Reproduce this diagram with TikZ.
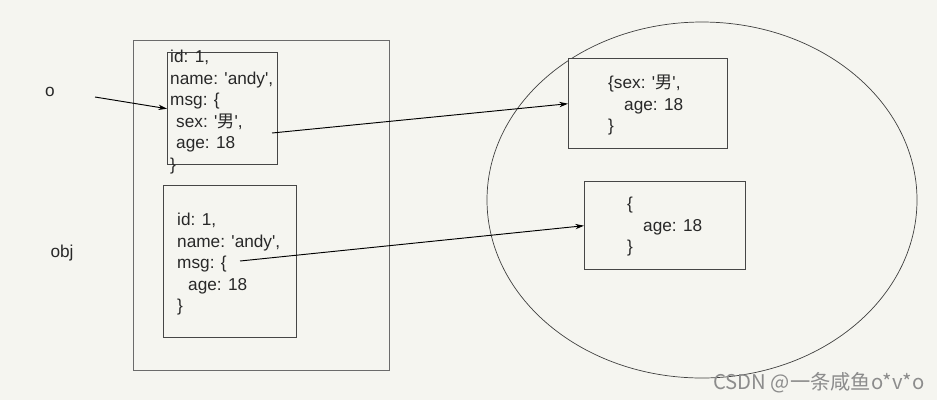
\documentclass[tikz,border=0pt]{standalone}
\usepackage{fontspec}
\newfontfamily\figfont{Liberation Sans}
\newfontfamily\cjk{Noto Sans CJK SC}
\usepackage{tikz}
\usetikzlibrary{arrows.meta,positioning,shapes.geometric}

\definecolor{paper}{RGB}{245,245,240}
\definecolor{ink}{RGB}{40,40,40}
\definecolor{frame}{RGB}{70,70,70}

\begin{document}
\begin{tikzpicture}[
    x=0.3mm, y=-0.3mm,
    font=\figfont\fontsize{14.7}{18.4}\selectfont,
    text=ink,
    objBox/.style={
        rectangle, draw=frame, line width=1.2pt, anchor=north west,
        inner sep=0pt
    },
    code/.style={anchor=north west, inner sep=0pt, align=left},
    varLabel/.style={inner sep=0pt},
    arrow/.style={-{Stealth[length=2.6mm,width=1.6mm]}, line width=0.8pt, draw=black}
]

    % background and frame
    \fill[paper] (0,0) rectangle (937,400);
    \useasboundingbox (0,0) rectangle (937,400);

    % stack side
    \node[varLabel] (o_label) at (50,92) {o};
    \node[varLabel] (obj_label) at (62,253) {obj};
    \node[objBox, draw=frame!80, line width=0.9pt, minimum width=256*0.3mm, minimum height=330*0.3mm] (outer_box) at (133,40) {};

    \node[objBox, minimum width=110*0.3mm, minimum height=112*0.3mm] (o_box) at (167,52) {};
    \node[code] (o_text) at (170,50) {id: 1,\\ name: 'andy',\\ msg: \{\\ \hspace{1.8mm}sex: '{\cjk 男}',\\ \hspace{1.8mm}age: 18\\ \}};

    \node[objBox, minimum width=133*0.3mm, minimum height=152*0.3mm] (obj_box) at (163,185) {};
    \node[code] (obj_text) at (177,213) {id: 1,\\ name: 'andy',\\ msg: \{\\ \hspace{3.3mm}age: 18\\ \}};

    % heap side
    \node[draw=black!75, line width=0.6pt, ellipse, minimum width=430*0.3mm, minimum height=356*0.3mm] (heap) at (702,200) {};

    \node[objBox, fill=paper, minimum width=159*0.3mm, minimum height=90*0.3mm] (msg_box) at (568,58) {};
    \node[code] (msg_text) at (608,75) {\{sex: '{\cjk 男}',\\ \hspace{4.8mm}age: 18\\ \}};

    \node[objBox, fill=paper, minimum width=161*0.3mm, minimum height=88*0.3mm] (copy_box) at (584,181) {};
    \node[code] (copy_text) at (627,197) {\{\\ \hspace{4.8mm}age: 18\\ \}};

    % references
    \coordinate (o_ref) at (95,97);
    \coordinate (sex_ref) at (272,133);
    \coordinate (msg_ref) at (240,261);

    \draw[arrow] (o_ref) -- (o_box.west);
    \draw[arrow] (sex_ref) -- (msg_box.west);
    \draw[arrow] (msg_ref) -- (copy_box.west);

    \node[anchor=south west, inner sep=0pt, text=black!45, font=\cjk\fontsize{17.3}{20}\selectfont] (mark) at (713,393) {CSDN @一条咸鱼o*v*o};

\end{tikzpicture}
\end{document}
